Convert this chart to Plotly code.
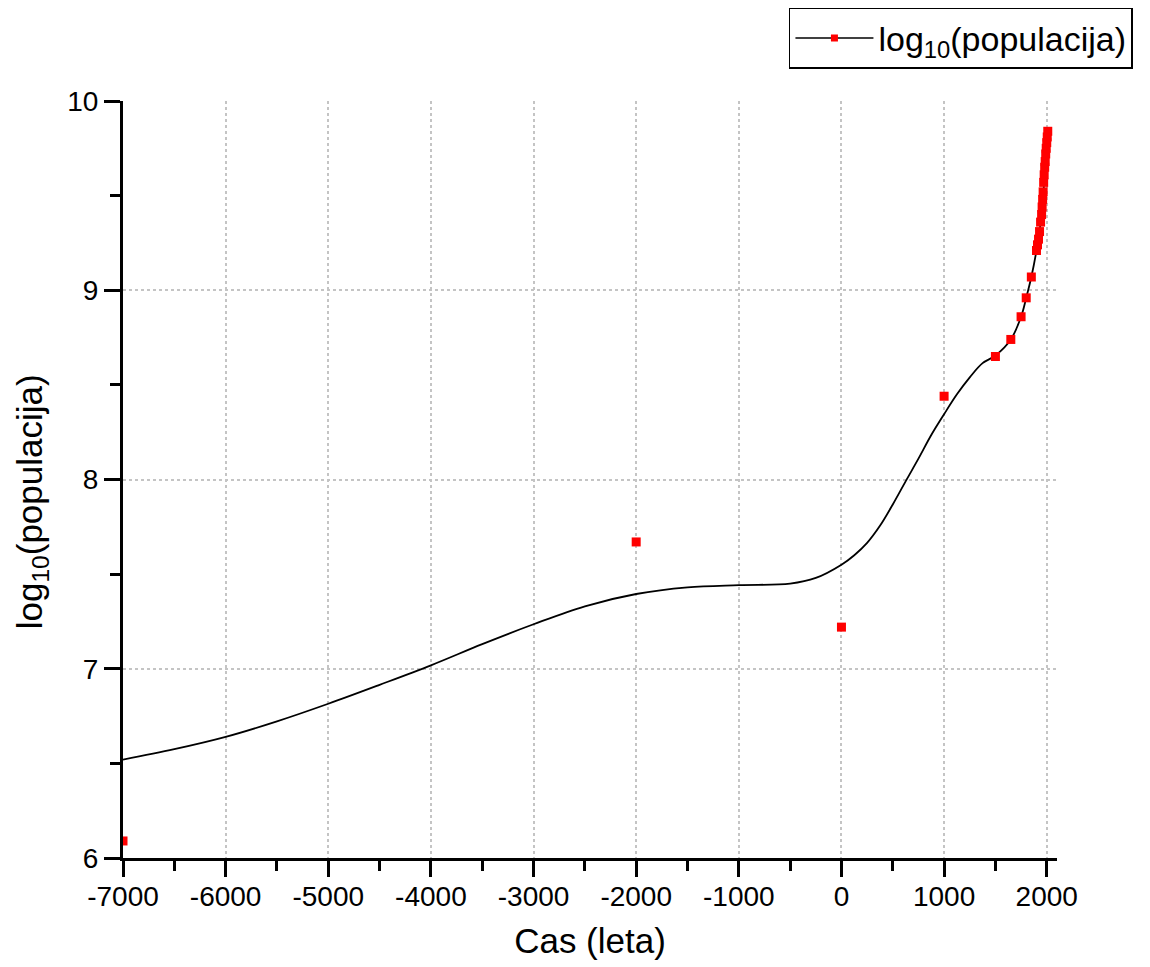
import plotly.graph_objects as go

# Observed world population (log10 of head count) by year
years = [-7000, -2000, 0, 1000, 1500, 1650, 1750, 1800, 1850, 1900, 1910, 1920,
         1930, 1940, 1950, 1955, 1960, 1965, 1970, 1975, 1980, 1985, 1990, 1995,
         2000, 2005, 2010]
log_pop = [6.09, 7.67, 7.22, 8.44, 8.65, 8.74, 8.86, 8.96, 9.07, 9.21, 9.24, 9.27,
           9.31, 9.36, 9.40, 9.44, 9.48, 9.52, 9.57, 9.61, 9.65, 9.68, 9.72, 9.75,
           9.78, 9.81, 9.84]

# Smoothed trend curve
fit_years = [-7000, -6500, -6000, -5500, -5000, -4500, -4000, -3500, -3000, -2500,
             -2000, -1500, -1000, -500, -250, 0, 125, 250, 375, 500, 625, 750,
             875, 1000, 1125, 1250, 1375, 1500, 1650, 1750, 1800, 1850, 1900, 1950,
             2000, 2010]
fit_vals = [6.52, 6.575, 6.64, 6.722, 6.815, 6.915, 7.018, 7.13, 7.235, 7.33,
            7.395, 7.43, 7.442, 7.45, 7.48, 7.55, 7.60, 7.665, 7.755, 7.868, 7.99, 8.11,
            8.235, 8.345, 8.45, 8.54, 8.615, 8.655, 8.74, 8.86, 8.96, 9.07, 9.21, 9.40,
            9.78, 9.84]

x_ticks = [-7000, -6000, -5000, -4000, -3000, -2000, -1000, 0, 1000, 2000]
y_ticks = [6, 7, 8, 9, 10]

FONT = "Arial, Liberation Sans, sans-serif"
label = "log<sub>10</sub>(populacija)"

fig = go.Figure()
fig.add_trace(go.Scatter(
    x=fit_years, y=fit_vals, mode="lines",
    line=dict(color="black", width=1.8, shape="spline", smoothing=1.0),
    showlegend=False, hoverinfo="skip",
))
fig.add_trace(go.Scatter(
    x=years, y=log_pop, mode="markers",
    marker=dict(symbol="square", size=9, color="#ff0000"),
    showlegend=False,
))
# legend entry combining the curve and the point style
fig.add_trace(go.Scatter(
    x=[None], y=[None], mode="lines+markers", name=label,
    line=dict(color="black", width=1.5),
    marker=dict(symbol="square", size=7, color="#ff0000"),
))

axis_common = dict(
    showline=True, linecolor="black", linewidth=3,
    ticks="outside", ticklen=16, tickwidth=3, tickcolor="black",
    showgrid=True, gridcolor="#c4c4c4", gridwidth=1.5, griddash="dot",
    zeroline=False, mirror=False,
    tickfont=dict(family=FONT, size=28, color="black"),
    title_font=dict(family=FONT, size=35, color="black"),
)

fig.update_xaxes(
    range=[-7000, 2100], tickvals=x_ticks, ticktext=[str(v) for v in x_ticks],
    title_text="Cas (leta)", title_standoff=18, ticklabelstandoff=-5,
    minor=dict(ticks="outside", ticklen=10, tickwidth=3, tickcolor="black",
               dtick=500, tick0=-7000, showgrid=False),
    **axis_common,
)
fig.update_yaxes(
    range=[6, 10], tickvals=y_ticks, ticktext=[str(v) for v in y_ticks],
    minor=dict(ticks="outside", ticklen=10, tickwidth=3, tickcolor="black",
               dtick=0.5, tick0=6, showgrid=False),
    **axis_common,
)

# vertical axis title
fig.add_annotation(
    text=label, textangle=-90, showarrow=False,
    xref="paper", yref="paper", x=-0.0974, y=0.47,
    xanchor="center", yanchor="middle",
    font=dict(family=FONT, size=35, color="black"),
)

fig.update_layout(
    width=1150, height=967,
    margin=dict(l=123, r=93, t=101, b=109, autoexpand=False),
    paper_bgcolor="white", plot_bgcolor="white",
    legend=dict(
        x=0.713, y=1.1229, xanchor="left", yanchor="top",
        bordercolor="black", borderwidth=1.5, bgcolor="white",
        itemwidth=78,
        font=dict(family=FONT, size=34, color="black"),
    ),
)

fig.write_html("out.html")
